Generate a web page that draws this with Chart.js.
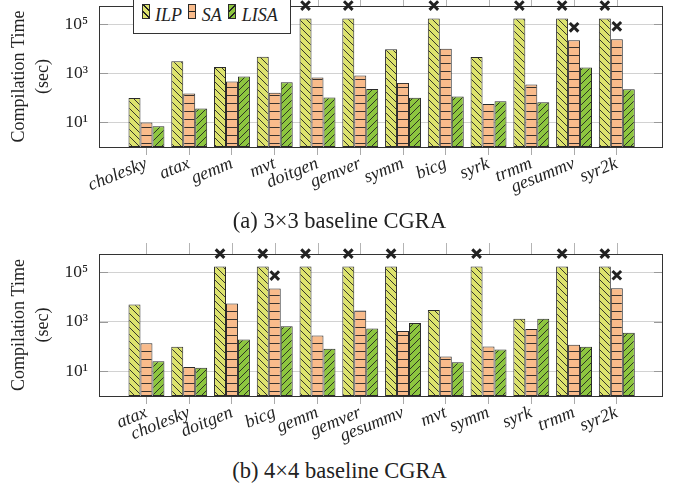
<!DOCTYPE html>
<html>
<head>
<meta charset="utf-8">
<script src="https://cdn.jsdelivr.net/npm/chart.js@4.4.1/dist/chart.umd.min.js"></script>
<style>
  body { margin: 0; background: #fff; width: 679px; height: 484px; overflow: hidden; position: relative;
         font-family: 'Liberation Serif', 'DejaVu Serif', serif; color: #222; }
  canvas { position: absolute; left: 0; }
  #c1 { top: 0; }
  #c2 { top: 240px; }
  .cap { position: absolute; left: 0; width: 679px; text-align: center; font-size: 22.5px; line-height: 22px; }
  #legend { position: absolute; left: 133px; top: -12px; width: 158px; height: 46px; box-sizing: border-box;
            border: 1px solid #333; background: #fff; }
  .sw { position: absolute; top: 15px; width: 8px; height: 15px; box-sizing: border-box; border: 1px solid #2a2a2a; }
  .lt { position: absolute; top: 15px; font-size: 18px; line-height: 22px; font-style: italic; }
</style>
</head>
<body>
<canvas id="c1" width="679" height="210"></canvas>
<canvas id="c2" width="679" height="210"></canvas>
<div id="legend"></div>
<div class="cap" style="top:210px">(a) 3×3 baseline CGRA</div>
<div class="cap" style="top:460px">(b) 4×4 baseline CGRA</div>
<script>
// ILP runs were capped at 48 h
const TIMEOUT = 172800;

// (a) 3x3 baseline CGRA
const labelsA = ['cholesky', 'atax', 'gemm', 'mvt', 'doitgen', 'gemver', 'symm', 'bicg', 'syrk', 'trmm', 'gesummv', 'syr2k'];
const ilpA  = [100, 3150, 1830, 4800, TIMEOUT, TIMEOUT, 9600, TIMEOUT, 4670, TIMEOUT, TIMEOUT, TIMEOUT];
const saA   = [10, 150, 464, 161, 675, 813, 410, 10200, 56, 350, 22400, 24500];
const lisaA = [7, 37, 740, 438, 104, 234, 101, 114, 74, 67, 1730, 228];
const saFailA = ['gesummv', 'syr2k'];

// (b) 4x4 baseline CGRA
const labelsB = ['atax', 'cholesky', 'doitgen', 'bicg', 'gemm', 'gemver', 'gesummv', 'mvt', 'symm', 'syrk', 'trmm', 'syr2k'];
const ilpB  = [5000, 98, TIMEOUT, TIMEOUT, TIMEOUT, TIMEOUT, TIMEOUT, 3020, TIMEOUT, 1350, TIMEOUT, TIMEOUT];
const saB   = [138, 15, 5500, 22400, 282, 2870, 424, 40, 101, 510, 118, 23000];
const lisaB = [25.5, 14, 195, 660, 81, 546, 895, 23, 76, 1350, 98, 363];
const saFailB = ['bicg', 'syr2k'];

const seriesNames = ['ILP', 'SA', 'LISA'];
const yTickValues = [10, 1000, 100000];
const Y_MIN = 1, Y_MAX = 560000;

const SERIF = "'Liberation Serif', 'DejaVu Serif', serif";
const FILLS = { ILP: '#dde36d', SA: '#f9bb8b', LISA: '#8dc63f' };
const HATCH = { ILP: 'nw', SA: 'h', LISA: 'ne' };
const SUP = { 0: '⁰', 1: '¹', 2: '²', 3: '³', 4: '⁴', 5: '⁵', 6: '⁶' };

function hatch(bg, kind) {
  const c = document.createElement('canvas');
  const s = kind === 'h' ? 8 : 7;
  c.width = c.height = s;
  const g = c.getContext('2d');
  g.fillStyle = bg;
  g.fillRect(0, 0, s, s);
  g.strokeStyle = '#222';
  g.lineWidth = 0.9;
  g.beginPath();
  if (kind === 'h') {
    g.moveTo(0, s - 0.5); g.lineTo(s, s - 0.5);
  } else {
    for (let k = -1; k <= 1; k++) {
      if (kind === 'nw') { g.moveTo(k * s - 1, -1); g.lineTo(k * s + s + 1, s + 1); }
      else { g.moveTo(k * s - 1, s + 1); g.lineTo(k * s + s + 1, -1); }
    }
  }
  g.stroke();
  return c;
}

// frame, outer ticks and the x marks for failed / timed-out runs
const framePlugin = {
  id: 'frame',
  afterDatasetsDraw(chart, args, opts) {
    const { ctx, chartArea: a, scales: { x, y } } = chart;
    ctx.save();
    ctx.lineWidth = 1;
    ctx.strokeStyle = '#b4b4b4';
    ctx.beginPath();
    x.ticks.forEach(t => {
      const px = Math.round(x.getPixelForValue(t.value)) + 0.5;
      ctx.moveTo(px, a.top - 11); ctx.lineTo(px, a.top);
    });
    ctx.stroke();
    ctx.strokeStyle = '#9a9a9a';
    ctx.beginPath();
    yTickValues.forEach(v => {
      const py = Math.round(y.getPixelForValue(v)) + 0.5;
      ctx.moveTo(a.left, py); ctx.lineTo(a.left + 9, py);
      ctx.moveTo(a.right - 9, py); ctx.lineTo(a.right, py);
    });
    ctx.stroke();
    ctx.strokeStyle = '#333';
    ctx.strokeRect(Math.round(a.left) + 0.5, Math.round(a.top) + 0.5,
                   Math.round(a.right - a.left) - 1, Math.round(a.bottom - a.top));

    ctx.strokeStyle = '#222';
    ctx.lineWidth = 3;
    (opts.marks || []).forEach((idxs, ds) => {
      const meta = chart.getDatasetMeta(ds);
      idxs.forEach(i => {
        const el = meta.data[i];
        if (!el) return;
        const cx = el.x, cy = el.y - 13, r = 4.3;
        ctx.beginPath();
        ctx.moveTo(cx - r, cy - r); ctx.lineTo(cx + r, cy + r);
        ctx.moveTo(cx + r, cy - r); ctx.lineTo(cx - r, cy + r);
        ctx.stroke();
      });
    });
    ctx.restore();
  }
};

function makeChart(id, labels, ilp, sa, lisa, saFail, topPad, xHeight) {
  const values = { ILP: ilp, SA: sa, LISA: lisa };
  const marks = [
    ilp.map((v, i) => v >= TIMEOUT ? i : -1).filter(i => i >= 0),
    saFail.map(n => labels.indexOf(n)),
    []
  ];
  const n = labels.length;
  return new Chart(document.getElementById(id), {
    type: 'bar',
    data: {
      datasets: seriesNames.map(name => ({
        label: name,
        data: values[name].map((v, i) => ({ x: i, y: v })),
        backgroundColor: document.createElement('canvas').getContext('2d')
          .createPattern(hatch(FILLS[name], HATCH[name]), 'repeat'),
        borderColor: '#2a2a2a',
        borderWidth: 1,
        borderSkipped: false,
        barPercentage: 1,
        categoryPercentage: 0.84,
      })),
    },
    options: {
      responsive: false,
      animation: false,
      devicePixelRatio: 1,
      layout: { padding: { top: topPad, right: 16, left: 0, bottom: 0 } },
      plugins: {
        legend: { display: false },
        tooltip: { enabled: false },
        frame: { marks },
      },
      scales: {
        x: {
          type: 'linear',
          offset: false,
          min: -1.11,
          max: n - 1 + 1.08,
          afterBuildTicks: s => { s.ticks = labels.map((_, i) => ({ value: i })); },
          afterFit: s => { s.height = xHeight; s.paddingLeft = 0; s.paddingRight = 0; },
          border: { display: false },
          grid: { offset: false, drawOnChartArea: false, drawTicks: true, tickLength: 8, color: '#aaa' },
          ticks: {
            autoSkip: false,
            includeBounds: false,
            minRotation: 22,
            maxRotation: 22,
            padding: -2,
            color: '#222',
            font: { family: SERIF, size: 18, style: 'italic' },
            callback: (v, i) => labels[i],
          },
        },
        y: {
          type: 'logarithmic',
          min: Y_MIN,
          max: Y_MAX,
          afterBuildTicks: s => { s.ticks = yTickValues.map(v => ({ value: v })); },
          afterFit: s => { s.width = 99; s.paddingTop = 0; s.paddingBottom = 0; },
          border: { display: false },
          grid: { color: '#d2d2d2', drawTicks: false },
          ticks: {
            padding: 11,
            color: '#222',
            font: { family: SERIF, size: 17.5 },
            callback: v => '10' + SUP[Math.round(Math.log10(v))],
          },
          title: {
            display: true,
            text: ['Compilation Time', '(sec)'],
            color: '#222',
            font: { family: SERIF, size: 18, lineHeight: 1.333 },
            padding: { top: 7, bottom: 0 },
          },
        },
      },
    },
    plugins: [framePlugin],
  });
}

function renderLegend() {
  const box = document.getElementById('legend');
  const swLeft = [141.7, 188, 228];
  const txtLeft = [155, 201.7, 241.7];
  const bg = {
    ILP: `repeating-linear-gradient(45deg, ${FILLS.ILP} 0 4px, #222 4px 5px)`,
    SA: `repeating-linear-gradient(180deg, ${FILLS.SA} 0 6px, #222 6px 7px)`,
    LISA: `repeating-linear-gradient(135deg, ${FILLS.LISA} 0 4px, #222 4px 5px)`,
  };
  box.innerHTML = seriesNames.map((name, i) => `
    <span class="sw" style="left:${swLeft[i] - 134}px;background:${bg[name]}"></span>
    <span class="lt" style="left:${txtLeft[i] - 134}px">${name}</span>`).join('');
}

makeChart('c1', labelsA, ilpA, saA, lisaA, saFailA, 6, 63);
makeChart('c2', labelsB, ilpB, saB, lisaB, saFailB, 14, 54);
renderLegend();
</script>
</body>
</html>
